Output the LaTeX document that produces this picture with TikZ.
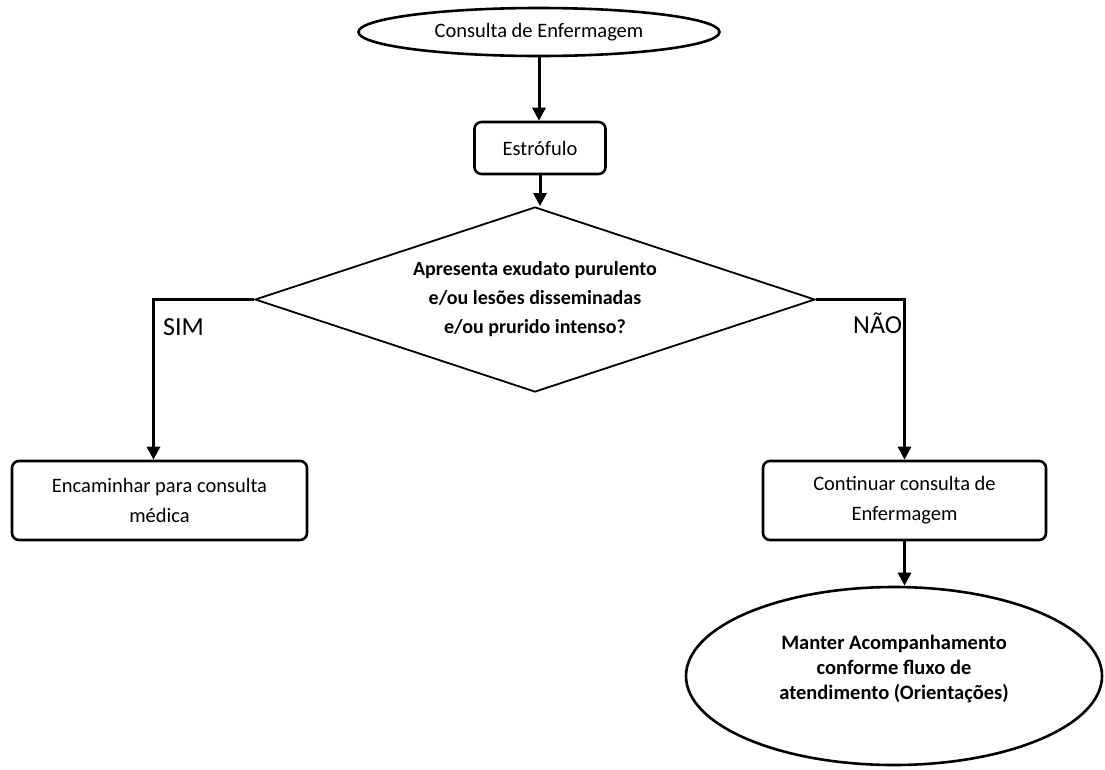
\documentclass[tikz,border=0pt]{standalone}
\usepackage{fontspec}
\setmainfont{Carlito}
\usetikzlibrary{shapes.geometric,arrows.meta}
\begin{document}
\begin{tikzpicture}[x=1pt,y=-1pt,
  base/.style={draw=black, line width=2.6pt, align=center, inner sep=0pt,
               font=\fontsize{20.5}{30}\selectfont},
  term/.style={base, ellipse},
  proc/.style={base, rectangle, rounded corners=7pt},
  decide/.style={draw=black, line width=1.8pt, diamond, aspect=3, align=center,
                 inner sep=0pt, font=\bfseries\fontsize{20}{29}\selectfont},
  flow/.style={line width=3pt, -{Triangle[length=13pt,width=13pt]}},
  branch/.style={font=\fontsize{26}{30}\selectfont, anchor=west, inner sep=0pt}]
\useasboundingbox[fill=white] (0,0) rectangle (1105,769);

% nodes
\node[term, minimum width=361pt, minimum height=48pt] (start) at (539,32) {Consulta de Enfermagem};
\node[proc, minimum width=131pt, minimum height=52pt] (estr) at (540,148) {Estrófulo};
\node[decide, minimum width=560pt, minimum height=185pt] (dec) at (535,299.5)
  {Apresenta exudato purulento\\e/ou lesões disseminadas\\e/ou prurido intenso?};
\node[proc, minimum width=295pt, minimum height=79pt] (lbox) at (159.5,500.5)
  {Encaminhar para consulta\\médica};
\node[proc, minimum width=283pt, minimum height=79pt] (rbox) at (904.5,500.5)
  {Continuar consulta de\\Enfermagem};
\node[term, minimum width=416pt, minimum height=178pt,
      font=\bfseries\fontsize{20.5}{25}\selectfont] (fin) at (894,676)
  {Manter Acompanhamento\\conforme fluxo de\\atendimento (Orientações)\\[-7pt]\mbox{}};

% branch labels
\node[branch] (sim) at (163,327) {SIM};
\node[branch] (nao) at (853,323) {NÃO};

% connectors
\draw[flow] (start.south) -- (start.south |- estr.north);
\draw[flow] (estr.south) -- (estr.south |- dec.north);
\draw[flow] (dec.west) -| ([xshift=-6pt]lbox.north);
\draw[flow] (dec.east) -| (rbox.north);
\draw[flow] (rbox.south) -- (rbox.south |- fin.north);
\end{tikzpicture}
\end{document}
